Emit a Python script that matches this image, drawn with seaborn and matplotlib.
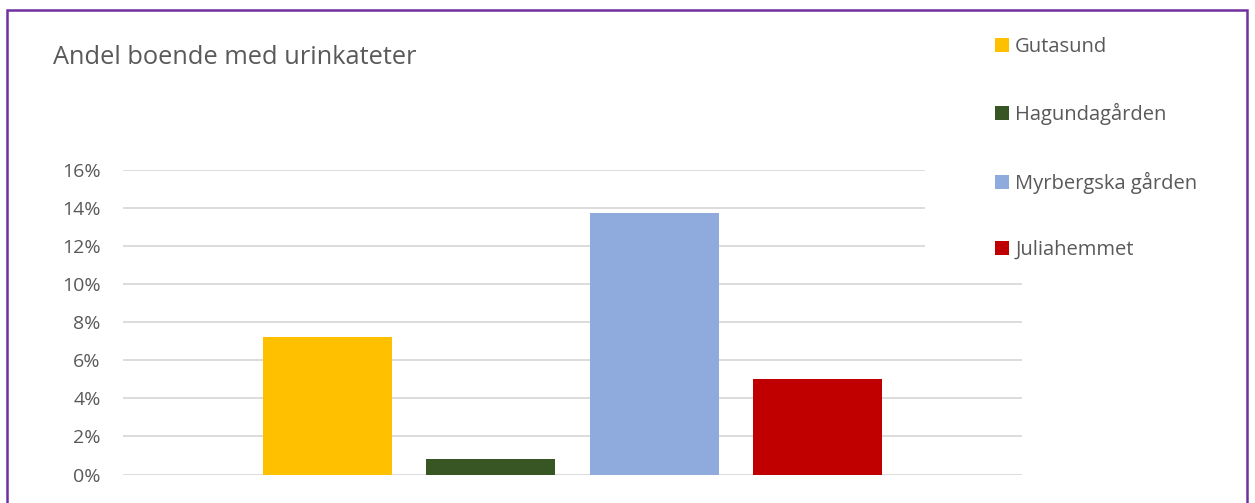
import matplotlib
matplotlib.use("Agg")
import matplotlib.pyplot as plt
import seaborn as sns
import pandas as pd
from matplotlib.patches import Rectangle
from matplotlib.ticker import PercentFormatter

# Data
units = ["Gutasund", "Hagundagården", "Myrbergska gården", "Juliahemmet"]
shares = [0.0723, 0.0082, 0.1376, 0.0502]
colors = ["#FFC000", "#375623", "#8FAADC", "#C00000"]
yticks = [0.0, 0.02, 0.04, 0.06, 0.08, 0.10, 0.12, 0.14, 0.16]
title = "Andel boende med urinkateter"

sns.set_theme(style="white")
plt.rcParams["font.family"] = ["Open Sans", "DejaVu Sans"]

df = pd.DataFrame({"unit": units, "share": shares})

W, H = 1255, 503
fig = plt.figure(figsize=(W / 100, H / 100), dpi=100)
ax = fig.add_axes([123 / W, 1 - 474.5 / H, (1022 - 123) / W, (474.5 - 170) / H])

sns.barplot(data=df, x="unit", y="share", hue="unit", palette=colors,
            order=units, hue_order=units, width=0.79, dodge=False,
            legend=True, ax=ax, saturation=1, linewidth=0)

ax.set_xlim(-1.253, 4.253)
ax.set_ylim(0, 0.16)
ax.set_yticks(yticks)
ax.yaxis.set_major_formatter(PercentFormatter(1.0, decimals=0))
ax.set_xticks([])
ax.set_xlabel("")
ax.set_ylabel("")
ax.grid(axis="y", color="#D9D9D9", linewidth=1.3)
ax.set_axisbelow(True)
for s in ax.spines.values():
    s.set_visible(False)
ax.tick_params(axis="y", length=0, pad=16, labelsize=14, labelcolor="#595959")

# legend
handles, labels = ax.get_legend_handles_labels()
ax.get_legend().remove()
leg = fig.legend(handles, labels, loc="upper left",
                 bbox_to_anchor=(987 / W, 1 - 29 / H),
                 frameon=False, fontsize=14.5, handlelength=0.7, handleheight=0.7,
                 handletextpad=0.3, labelspacing=2.3, borderaxespad=0)
for t in leg.get_texts():
    t.set_color("#595959")

# white area behind legend (covers gridlines like the original legend box)
fig.patches.append(Rectangle((925 / W, 1 - 265 / H), (1030 - 925) / W, 245 / H,
                             transform=fig.transFigure, facecolor="white",
                             edgecolor="none", zorder=1))

fig.text(53 / W, 1 - 57 / H, title, fontsize=18.3, color="#595959",
         ha="left", va="center")

# purple chart border
fig.patches.append(Rectangle((7 / W, -0.05), (1247 - 7) / W, 1.05 - 10 / H,
                             transform=fig.transFigure, facecolor="none",
                             edgecolor="#7030A0", linewidth=1.8, zorder=6))

fig.savefig("out.png", dpi=100)
